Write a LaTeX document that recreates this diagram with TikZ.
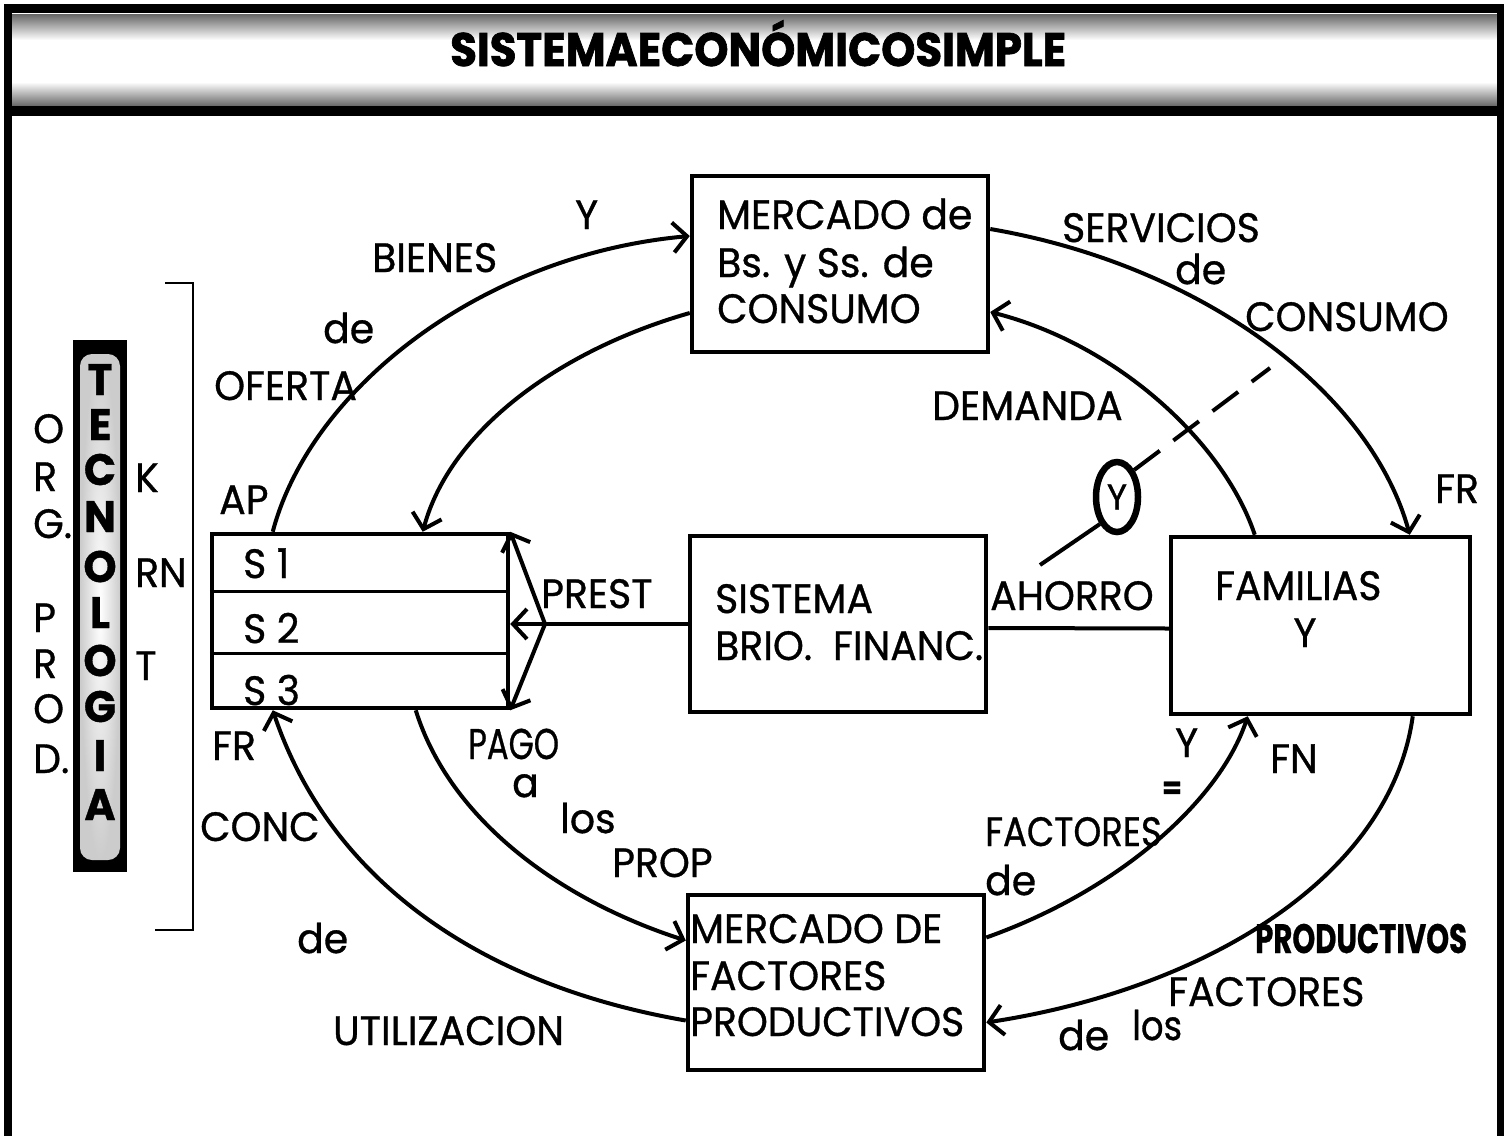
\documentclass[tikz,border=0pt]{standalone}
\usepackage{fontspec}
\setmainfont{Poppins}[FakeStretch=0.96,FakeBold=0.8]
\newfontfamily\titlef{Poppins}[FakeBold=1.5]
\usetikzlibrary{arrows.meta,calc,shapes.geometric}
\newcommand\lblfont{\fontsize{41}{46}\selectfont}
\newcommand\tecfont{\fontsize{44}{48}\selectfont\bfseries}
\begin{document}
\begin{tikzpicture}[x=1pt,y=-1pt,
  box/.style={draw,line width=4.5pt,inner sep=0pt},
  flow/.style={line width=4pt},
  arr/.style={flow,-{Straight Barb[length=14pt,width=30pt]}},
  lbl/.style={font=\lblfont,inner sep=0pt,anchor=base west},
  tec/.style={font=\tecfont,inner sep=0pt,anchor=base},
  thin/.style={line width=2.2pt}]
\useasboundingbox (0,0) rectangle (1508,1136);
% ---------------- frame and header
\fill[white] (0,0) rectangle (1508,1136);
\shade[top color=black!60,bottom color=white] (5,14) rectangle (1503,40);
\shade[top color=white,bottom color=black!60] (5,82) rectangle (1503,106);
\fill[black] (4,4) rectangle (1504,13);
\fill[black] (4,106) rectangle (1504,116);
\fill[black] (4,4) rectangle (12,1136);
\fill[black] (1497,4) rectangle (1504,1136);
\node[inner sep=0pt,anchor=base west] (title) at (450,66)
  {\titlef\fontsize{47}{50}\selectfont\bfseries\scalebox{0.925}[1]{SISTEMAECONÓMICOSIMPLE}};
% ---------------- boxes
\node[box,minimum width=296pt,minimum height=176pt] (MC) at (840,264) {};
\node[box,minimum width=296pt,minimum height=174pt] (S) at (360,621) {};
\node[box,minimum width=296pt,minimum height=176pt] (SF) at (838,624) {};
\node[box,minimum width=299pt,minimum height=177pt] (FAM) at (1320.5,625.5) {};
\node[box,minimum width=296pt,minimum height=175pt] (MF) at (836,982.5) {};
\draw[line width=3pt] ($(S.west)+(0,-30)$) -- ($(S.east)+(0,-30)$);
\draw[line width=3pt] ($(S.west)+(0,32)$) -- ($(S.east)+(0,32)$);
% box texts
\node[lbl] (mc1) at (717,229) {MERCADO de};
\node[lbl] (mc2) at (717,277) {Bs. y Ss. de};
\node[lbl] (mc3) at (717,323) {CONSUMO};
\node[lbl] (s1) at (243,578) {S~1};
\node[lbl] (s2) at (243,643) {S~2};
\node[lbl] (s3) at (243,705) {S~3};
\node[lbl] (sf1) at (715,613) {SISTEMA};
\node[lbl] (sf2) at (715,660) {BRIO.~~FINANC.};
\node[lbl] (fam1) at (1215,600) {FAMILIAS};
\node[lbl,anchor=base] (fam2) at (1305,647) {Y};
\node[lbl] (mf1) at (690,943) {MERCADO DE};
\node[lbl] (mf2) at (690,990) {FACTORES};
\node[lbl] (mf3) at (690,1036) {PRODUCTIVOS};
% ---------------- flows
\draw[arr] ($(S.north west)+(63,0)$) .. controls (310,390) and (480,255) .. ($(MC.west)+(0,-28)$);
\draw[arr] ($(MC.west)+(0,49)$) .. controls (560,350) and (450,430) .. ($(S.north west)+(213,0)$);
\draw[arr] ($(MC.east)+(0,-35)$) .. controls (1200,265) and (1370,390) .. ($(FAM.north west)+(241,0)$);
\draw[arr] ($(FAM.north west)+(86,0)$) .. controls (1225,445) and (1120,345) .. ($(MC.east)+(0,48)$);
\draw[arr] ($(FAM.south west)+(244,0)$) .. controls (1390,880) and (1200,990) .. ($(MF.east)+(0,40)$);
\draw[arr] ($(MF.east)+(0,-45)$) .. controls (1120,890) and (1220,800) .. ($(FAM.south west)+(79,0)$);
\draw[arr] ($(MF.west)+(0,38)$) .. controls (480,985) and (330,880) .. ($(S.south west)+(63,0)$);
\draw[arr] ($(S.south west)+(206,0)$) .. controls (450,820) and (560,900) .. ($(MF.west)+(0,-42)$);
% loans fan
\coordinate (fan) at (545,624);
\draw[flow] (SF.west) -- (fan);
\draw[arr] (fan) -- ($(S.east)+(0,3)$);
\draw[arr] (fan) -- (S.north east);
\draw[arr] (fan) -- (S.south east);
% savings
\draw[flow] ($(SF.east)+(0,4)$) -- ($(FAM.west)+(0,3)$);
\node[draw,ellipse,line width=6.5pt,minimum width=42pt,minimum height=70pt,inner sep=0pt,font=\fontsize{36}{40}\selectfont] (Yc) at (1117,497) {Y};
\coordinate (sv) at (1040,565);
\coordinate (dv) at (1270,368);
\draw[flow] (sv) -- (Yc.south west);
\draw[flow,dash pattern=on 32pt off 17pt] (Yc.north east) -- (dv);
% ---------------- labels
\node[lbl] (l1) at (575,229) {Y};
\node[lbl] (l2) at (372,272) {BIENES};
\node[lbl] (l3) at (323,343) {de};
\node[lbl] (l4) at (214,400) {OFERTA};
\node[lbl] (l5) at (219,514) {AP};
\node[lbl] (l6) at (212,760) {FR};
\node[lbl] (l7) at (200,841) {CONC};
\node[lbl] (l8) at (297,953) {de};
\node[lbl] (l9) at (333,1045) {UTILIZACION};
\node[lbl] (l10) at (468,759) {\scalebox{0.82}[1.05]{PAGO}};
\node[lbl] (l11) at (512,797) {a};
\node[lbl] (l12) at (560,833) {los};
\node[lbl] (l13) at (612,877) {PROP};
\node[lbl] (l14) at (541,608) {PREST};
\node[lbl] (r1) at (1062,242) {SERVICIOS};
\node[lbl] (r2) at (1175,284) {de};
\node[lbl] (r3) at (1245,331) {CONSUMO};
\node[lbl] (r4) at (932,420) {DEMANDA};
\node[lbl] (r5) at (1435,503) {FR};
\node[lbl] (r6) at (990,610) {AHORRO};
\node[lbl] (r7) at (1175,757) {Y};
\node[inner sep=0pt,font=\fontsize{30}{30}\selectfont\bfseries] (r8) at (1172,790) {=};
\node[lbl] (r9) at (1270,773) {FN};
\node[lbl] (r10) at (985,846) {\scalebox{0.9}[1]{FACTORES}};
\node[lbl] (r11) at (985,895) {de};
\node[lbl] (r12) at (1255,953) {\bfseries\scalebox{0.74}[1]{PRODUCTIVOS}};
\node[lbl] (r13) at (1168,1006) {FACTORES};
\node[lbl] (r14) at (1132,1040) {\scalebox{0.9}[1]{los}};
\node[lbl] (r15) at (1058,1050) {de};
% ---------------- left side
\draw[thin] (165,283) -- (193,283) -- (193,930) -- (155,930);
\fill[black] (73,340) rectangle (127,872);
\shade[rounded corners=12pt,inner color=white,outer color=black!20] (80,354) rectangle (120,860);
\node[tec] (t1) at (100,395) {T};
\node[tec] (t2) at (100,440) {E};
\node[tec] (t3) at (100,485) {C};
\node[tec] (t4) at (100,532) {N};
\node[tec] (t5) at (100,582) {O};
\node[tec] (t6) at (100,628) {L};
\node[tec] (t7) at (100,676) {O};
\node[tec] (t8) at (100,722) {G};
\node[tec] (t9) at (100,771) {I};
\node[tec] (t10) at (100,820) {A};
\node[lbl] (o1) at (33,443) {O};
\node[lbl] (o2) at (33,491) {R};
\node[lbl] (o3) at (33,538) {G.};
\node[lbl] (o4) at (33,632) {P};
\node[lbl] (o5) at (33,678) {R};
\node[lbl] (o6) at (33,723) {O};
\node[lbl] (o7) at (33,773) {D.};
\node[lbl] (k1) at (135,492) {K};
\node[lbl] (k2) at (135,587) {RN};
\node[lbl] (k3) at (135,680) {T};
\end{tikzpicture}
\end{document}
